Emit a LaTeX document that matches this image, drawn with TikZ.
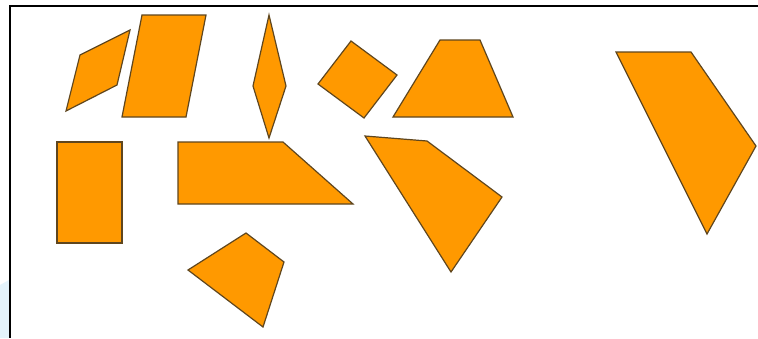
\documentclass[tikz,border=0pt]{standalone}
\definecolor{piecefill}{RGB}{255,153,0}
\definecolor{pieceline}{RGB}{95,70,30}
\definecolor{paleblue}{RGB}{228,243,251}
\begin{document}
\begin{tikzpicture}[x=1pt,y=-1pt,
  piece/.style={fill=piecefill, draw=pieceline, line width=1.2pt, line join=miter}]
\useasboundingbox (0,0) rectangle (758,338);
\fill[white] (0,0) rectangle (758,338);
\fill[paleblue] (0,285) -- (9,280) -- (9,338) -- (0,338) -- cycle;
\draw[line width=2pt, black] (758,6) -- (10,6) -- (10,338);
% pieces
\draw[piece] (80,55) -- (130,30) -- (117,85) -- (66,111) -- cycle;
\draw[piece] (142,15) -- (206,15) -- (186,117) -- (122,117) -- cycle;
\draw[piece] (269,15) -- (286,86) -- (269,138) -- (253,86) -- cycle;
\draw[piece] (318,84) -- (351,41) -- (397,75) -- (364,118) -- cycle;
\draw[piece] (440,40) -- (480,40) -- (513,117) -- (393,117) -- cycle;
\draw[piece] (616,52) -- (691,52) -- (756,146) -- (707,234) -- cycle;
\draw[piece] (57,142) -- (122,142) -- (122,243) -- (57,243) -- cycle;
\draw[piece] (178,142) -- (283,142) -- (353,204) -- (178,204) -- cycle;
\draw[piece] (188,270) -- (246,233) -- (284,262) -- (263,327) -- cycle;
\draw[piece] (365,136) -- (427,141) -- (502,197) -- (451,272) -- cycle;
\end{tikzpicture}
\end{document}
